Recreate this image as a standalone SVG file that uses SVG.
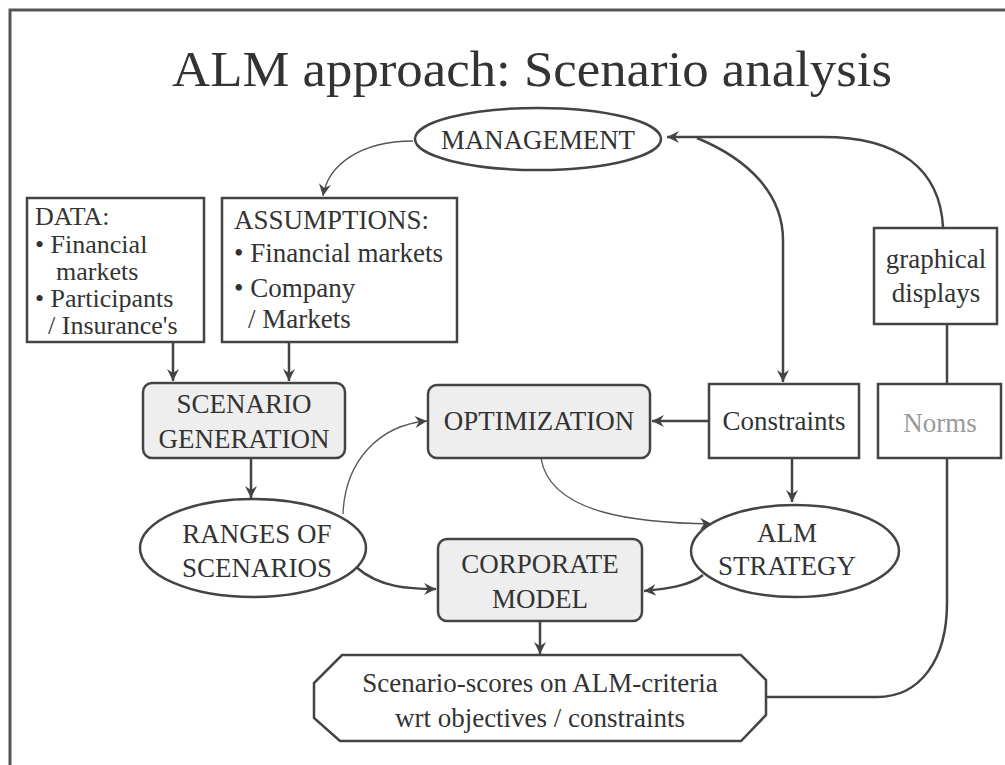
<svg xmlns="http://www.w3.org/2000/svg" width="1005" height="765" viewBox="0 0 1005 765">
<style>
text{font-family:"Liberation Serif","Times New Roman",serif;fill:#333;font-size:27px}
.title{font-size:50px}
.sm{font-size:26px}
.c{text-anchor:middle}
.box{fill:#fff;stroke:#444;stroke-width:2.5}
.gbox{fill:#eeeeee;stroke:#444;stroke-width:2.5}
.ln{fill:none;stroke:#444;stroke-width:2.5}
.thin{fill:none;stroke:#555;stroke-width:1.3}
</style>
<defs>
<marker id="ah" markerWidth="14" markerHeight="14" refX="12" refY="7" orient="auto" markerUnits="userSpaceOnUse">
<path d="M0,1 L12,7 L0,13 L4,7 Z" fill="#444"/>
</marker>
</defs>
<rect width="1005" height="765" fill="#fff"/>
<path d="M10 765 L10 10 L1005 10" fill="none" stroke="#555" stroke-width="3"/>
<text class="c title" x="532" y="86" textLength="720" lengthAdjust="spacingAndGlyphs">ALM approach: Scenario analysis</text>

<g id="connectors">
<path class="thin" d="M413 141 C360 141 328 165 323 196" marker-end="url(#ah)"/>
<path class="ln" d="M943 227 C940 170 900 137 823 137 L667 137" marker-end="url(#ah)"/>
<path class="ln" d="M697 138 C750 160 783 195 783 240 L783 382" marker-end="url(#ah)"/>
<path class="ln" d="M173 342 L173 381" marker-end="url(#ah)"/>
<path class="ln" d="M289 342 L289 381" marker-end="url(#ah)"/>
<path class="ln" d="M251 458 L251 498" marker-end="url(#ah)"/>
<path class="ln" d="M709 421 L652 421" stroke-width="1.8" marker-end="url(#ah)"/>
<path class="thin" d="M343 514 C345 460 380 425 427 421" marker-end="url(#ah)"/>
<path class="thin" d="M541 458 C550 515 640 523 712 524" marker-end="url(#ah)"/>
<path class="ln" d="M792 458 L792 502" marker-end="url(#ah)"/>
<path class="ln" d="M356 567 C380 588 410 589 436 589" marker-end="url(#ah)"/>
<path class="ln" d="M703 575 C690 586 665 589 644 591" marker-end="url(#ah)"/>
<path class="ln" d="M540 621 L540 654" marker-end="url(#ah)"/>
<path class="ln" d="M947 324 L947 384"/>
<path class="ln" d="M947 458 L947 603 C947 660 920 697 877 697 L766 697"/>
</g>

<g id="management">
<ellipse class="box" cx="538" cy="139" rx="123" ry="31"/>
<text class="c" x="538" y="149" textLength="194" lengthAdjust="spacingAndGlyphs">MANAGEMENT</text>
</g>

<g id="data">
<rect class="box" x="27" y="198" width="177" height="144"/>
<text class="sm" x="35" y="225">DATA:</text>
<text class="sm" x="35" y="253">• Financial</text>
<text class="sm" x="56" y="280">markets</text>
<text class="sm" x="35" y="307">• Participants</text>
<text class="sm" x="48" y="334">/ Insurance's</text>
</g>

<g id="assumptions">
<rect class="box" x="222" y="198" width="235" height="144"/>
<text x="234" y="229">ASSUMPTIONS:</text>
<text x="234" y="262">• Financial markets</text>
<text x="234" y="297">• Company</text>
<text x="248" y="328">/ Markets</text>
</g>

<g id="graphical">
<rect class="box" x="874" y="228" width="123" height="96"/>
<text class="c" x="936" y="268">graphical</text>
<text class="c" x="936" y="302">displays</text>
</g>

<g id="scenario-generation">
<rect class="gbox" x="143" y="383" width="202" height="75" rx="9"/>
<text class="c" x="244" y="413">SCENARIO</text>
<text class="c" x="244" y="448">GENERATION</text>
</g>

<g id="optimization">
<rect class="gbox" x="428" y="385" width="222" height="73" rx="9"/>
<text class="c" x="539" y="430">OPTIMIZATION</text>
</g>

<g id="constraints">
<rect class="box" x="709" y="384" width="150" height="74"/>
<text class="c" x="784" y="430">Constraints</text>
</g>

<g id="norms">
<rect class="box" x="878" y="384" width="123" height="74"/>
<text class="c" x="940" y="432" style="fill:#999">Norms</text>
</g>

<g id="ranges">
<ellipse class="box" cx="253" cy="548" rx="113" ry="49"/>
<text class="c" x="257" y="543">RANGES OF</text>
<text class="c" x="257" y="577">SCENARIOS</text>
</g>

<g id="alm-strategy">
<ellipse class="box" cx="795" cy="551" rx="104" ry="46"/>
<text class="c" x="787" y="542">ALM</text>
<text class="c" x="787" y="575">STRATEGY</text>
</g>

<g id="corporate-model">
<rect class="gbox" x="438" y="539" width="204" height="82" rx="9"/>
<text class="c" x="540" y="573">CORPORATE</text>
<text class="c" x="540" y="608">MODEL</text>
</g>

<g id="scores">
<path class="box" d="M342 655 L741 655 L766 680 L766 715 L741 741 L340 741 L314 718 L314 683 Z"/>
<text class="c" x="540" y="692">Scenario-scores on ALM-criteria</text>
<text class="c" x="540" y="727">wrt objectives / constraints</text>
</g>
</svg>
